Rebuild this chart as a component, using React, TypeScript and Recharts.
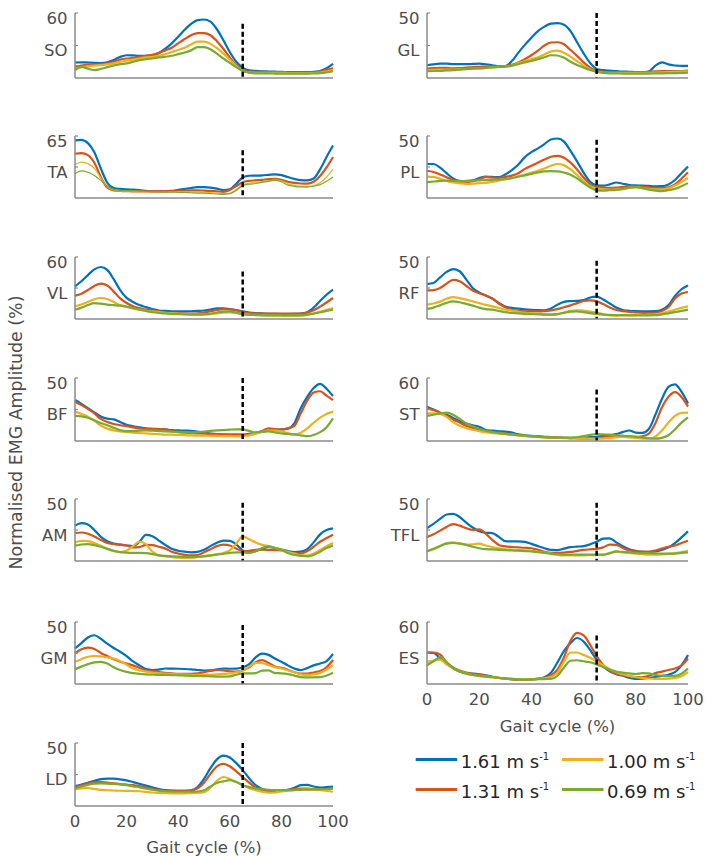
import React from 'react';
import { LineChart, Line, XAxis, YAxis, ReferenceLine } from 'recharts';

// Gait cycle (%) sample positions
const GAIT = [0,2.5,5,7.5,10,12.5,15,17.5,20,22.5,25,27.5,30,32.5,35,37.5,40,42.5,45,47.5,50,52.5,55,57.5,60,62.5,65,67.5,70,72.5,75,77.5,80,82.5,85,87.5,90,92.5,95,97.5,100];
const X_TICKS = [0,20,40,60,80,100];
const SPEED_LABELS = ['1.61', '1.31', '1.00', '0.69'];
const SPEED_COLORS = ['#0072BD', '#D95319', '#EDB120', '#77AC30'];
const FOOT_OFF = 65;

const SO_161 = [14.3,14.5,14.3,14,13.8,14.5,16.5,19.5,21,20.8,20.5,20.5,21,23,27,32,38,44.5,50,53.5,54,52,45,35,24,15,9.5,7,6.5,6.2,6,5.8,5.6,5.5,5.4,5.4,5.4,5.6,6.5,9,13];
const SO_131 = [10.5,11.5,12.3,12.5,12.8,13.5,15,17,18,18.5,19.5,20.5,21.5,23,25.5,28,32,36,39.5,41.5,41.5,39.5,34,27,19,12,7.5,6,5.7,5.6,5.5,5.5,5.4,5.3,5.2,5.2,5.2,5.4,6,7.5,9];
const SO_100 = [8.7,10,10.9,11.5,11.8,12.5,13.5,15,16,17,18,19,19.6,20.5,22,24,25.8,28,31,33.5,33.5,31.5,27.5,22.5,17,11,6.5,5.2,4.8,4.7,4.7,4.7,4.7,4.6,4.5,4.5,4.5,4.6,5,6,7.2];
const SO_069 = [7.2,10.3,8.7,7.2,8.5,10,11.5,12.8,13.5,15,16.5,17.5,18,19,19.6,20.5,22,23.5,25.5,28.5,28.5,26.5,22.5,18,14,10,6.5,5,4.3,4.2,4.2,4.1,4,4,4,4,4,4.2,4.5,5.2,6.2];

const GL_161 = [9.8,10.5,11,11,10.6,10.6,10.6,10.8,11,10.6,9.8,9,9.2,13,19.5,25.5,31,36,39.5,41.8,42.2,41,36,27.5,19,11.5,7,6,5.6,5.3,5,4.8,4.5,4.4,5,9.5,12,10.5,9.6,9.4,9.3];
const GL_131 = [7.3,7.6,7.8,7.8,7.5,7.6,8,8.4,8.6,8.8,9,9,9.2,10.2,12,14.5,17.5,21,25,27.3,27.5,26,21.5,17,12,8,5.6,4.8,4.5,4.4,4.4,4.4,4.4,4.5,4.8,5.2,5.4,5.4,5.4,5.4,5.6];
const GL_100 = [6,6.2,6.4,6.5,6.5,6.8,7,7.2,7.3,7.7,8.2,8.5,8.7,9.5,11.5,13,14.5,16,18,20.5,21,19.5,16.5,13,9.5,6.5,4.8,4.2,4,3.9,3.9,3.9,3.9,3.9,4,4.2,4.4,4.6,4.8,5,5.2];
const GL_069 = [5.2,5.4,5.4,5.8,6,6.4,6.8,7.2,7.4,7.8,8.2,8.5,8.7,9.5,10.7,12,13.2,14.5,16,17.5,17.3,15.5,12.5,10,8,6.2,4.8,4,3.6,3.5,3.4,3.4,3.4,3.4,3.4,3.5,3.6,3.7,3.8,3.9,4.2];

const TA_161 = [60.4,61,57.5,48,31,16,10.5,9.5,9,8.7,8.2,7.5,7,7,7,7.5,8.5,9.5,10.5,11.3,11.3,10.8,9.8,8.3,9,15,21.5,23.3,23.5,23.8,24.3,24.8,24,22,20,18.7,18.5,20.5,30,43,55];
const TA_131 = [46.4,47,45,37,22,11,8,7.5,7.2,7,7,7,7,7,7,7.2,7.5,7.8,8,8,7.8,7.5,7,6.5,8.5,12.5,16.5,18,18.5,19,19.8,20.2,19,17,15.8,15.2,15,17,23,32,43];
const TA_100 = [35,37.7,36,31,21,12,8.5,7.5,7.2,7,6.8,6.6,6.5,6.5,6.5,6.5,6.6,6.6,6.5,6.3,6,5.6,5.2,4.6,5,9,14,15.5,16.5,17.2,18,19,18,15,13.3,12.5,12.2,13,16,22,30];
const TA_069 = [25.5,28.5,27,23.5,18.5,12.5,9,8,7.8,7.5,7.3,7,6.8,6.6,6.4,6.2,6,5.8,5.5,5.2,5,4.6,4.2,3.8,4.5,8,13,14.5,15.2,16.3,17.5,18.5,17,13.5,12.2,11.6,11.5,12.3,14,17.5,22];

const PL_161 = [27.4,27.4,24.5,20,15.8,13.8,13.6,14.2,16,17.3,17,16.8,19,22.5,27,33,37,40,43.5,47.2,48,45.5,38,29.5,20.5,13,10.2,10,11,12.5,11.5,10.5,10.2,10,9.7,9.4,9.5,10.9,14.5,20,25.3];
const PL_131 = [22,21,19,16.8,14.5,13.2,12.8,13.5,15,16.8,16.5,16.2,17,18,20,23.5,26,28.5,31,33.3,34,32.5,28.5,23,16.5,11,8.8,8.4,8.2,8.4,8.9,9.3,9.3,9.2,8.7,8.1,8,8.6,11,15.5,20.7];
const PL_100 = [17.3,17,15.5,13.8,12.5,11.8,11.4,11.6,12,12.2,13,14,15,16,17.3,19,20.5,22,23.8,26,27.4,26.3,23,18.5,13.5,9.5,7.6,7,6.8,6.7,7.2,8.2,8.8,8,7.4,7,7,7.8,10,13,16.2];
const PL_069 = [12.8,13.3,13.8,14,13.8,13.6,13.8,14,14.2,14.4,14.6,14.9,15.3,16,17.2,18.3,19.5,20.6,21.4,21.6,21.5,20.5,18.8,15.8,12,8.5,6.2,6,6.3,6.6,7.4,8.3,8.8,8,6.8,6,5.6,6.3,7.4,9.5,12];

const VL_161 = [31.6,36.5,42.5,48,50.3,47.5,38.5,28,20.5,16.5,13.5,11.5,9.5,8.2,7.8,7.5,7.4,7.4,7.5,7.8,8.2,9.2,10.3,10.4,9.6,8.6,7.4,6.3,5.7,5.4,5.1,4.9,4.8,4.8,4.9,5.2,6.5,11,17.5,23.5,28.4];
const VL_131 = [22.6,24.5,28,32,34.2,32.5,26.5,20,15.5,12.3,10.5,9,8.1,7.3,6.5,6,5.6,5.3,5.2,5.5,6.3,7.5,8.7,9.6,9.4,8.4,6.8,5.8,5.5,5.3,5.2,5.2,5.2,5.2,5.2,5.3,6.3,8.4,12,16,20.3];
const VL_100 = [12.3,14,16.5,19,20.3,19.3,16.5,13.5,11.8,10.3,9,8,7.3,6.6,6,5.6,5.2,4.8,4.5,4.4,4.5,4.8,5.5,6.2,6.5,6,4.8,4.3,4,3.8,3.6,3.5,3.4,3.3,3.3,3.4,4,5.3,7,8.8,10.6];
const VL_069 = [9,11,13.5,15.3,14.8,13.9,13.4,12.9,12,10.5,9,7.7,6.5,5.8,5.4,5,4.7,4.4,4.2,4.2,4.5,5.2,6.3,7.2,7.3,6.2,4.6,4,3.8,3.6,3.5,3.5,3.5,3.5,3.5,3.6,4.2,5.2,6.5,7.8,9];

const RF_161 = [28.2,29,33.5,38,40.3,38.5,32,25,21.5,19,16.5,13,10,9,8.3,7.8,7.4,7.1,7,8.5,11.6,13.8,14.4,14.6,15.2,17.3,18,15.8,12.5,9.2,7.3,6.6,6.3,6.2,6.2,6.3,7.5,11,18.5,24,27.1];
const RF_131 = [23.1,23.3,25,28.5,31.5,30.5,26.8,23,20.8,19,16.5,12.5,9.5,7.5,6.5,6.2,6.1,6.1,6.3,7,8,9.5,11,12.8,14.5,15,14.2,12,9.3,7.3,6.4,5.8,5.4,5,4.8,4.9,6.5,9.5,16.5,20.5,21.8];
const RF_100 = [11.6,12.5,14,16.3,17.7,16.8,15.6,14.2,12.8,11.4,10.2,8.9,7.7,6.7,5.8,5,4.5,4.1,3.7,3.6,4,5.2,6.5,7,6.7,6,5.2,3.8,3,2.8,2.9,3,3.2,3.4,3.5,3.8,4.6,6,7.5,9,10.2];
const RF_069 = [8.1,9.2,11,13,14.2,13.5,12.2,10.8,9.2,8,7.5,6.5,5.5,4.9,4.5,4.2,4,3.8,3.6,3.6,4,5,5.9,6.2,5.6,4.7,4.1,3.6,3.3,3.2,3.1,3,3,3,3,3.1,3.7,4.6,5.5,6.5,7.5];

const BF_161 = [32.5,29.5,26,22.7,19.5,17.7,17.2,15,12.8,11.7,10.8,10,9.7,9.5,9.2,8.7,8.4,8.2,8.1,7.4,6.6,5.9,5.4,5,5,5,5,5.6,6.5,7.5,8.2,8.8,9.2,9.8,14,26,35,42,45.3,41.5,35.6];
const BF_131 = [31.2,28.5,25.5,22,17.5,15,13.5,12.5,11.8,10.8,10,9.6,9.4,9.4,9.2,7.8,7,6.6,6.3,6,5.8,5.6,5.4,5.2,5.1,5,5,5.2,6,8,10,9.5,9,10,12,22,32,38.5,39.5,36,32.5];
const BF_100 = [23.3,21.5,19.3,16,12.3,9.8,8.4,7.6,7.1,6.6,6.3,6,5.7,5.4,5.1,5,4.8,4.6,4.4,4.3,4.2,4.1,4,3.9,3.8,3.7,3.7,4.5,5.8,7.2,8.3,8.3,7.6,6.2,5.2,6.5,10,14.5,18.5,21.5,23.3];
const BF_069 = [19.9,19.6,18.5,16.5,14.3,12.5,10.5,8.6,7.8,7.8,8.2,8.4,8.2,7.9,7.6,7.4,7.2,7,6.8,7,7.5,8,8.4,8.7,9,9.3,9.2,8,6.8,7.4,7.6,6.8,6,5.6,5.2,4.5,3.8,4.8,7,11,18];

const ST_161 = [32.7,30,27,25,22,19,16.6,15,13.5,10.5,9.8,9.3,9,8,6.3,5.5,4.9,4.4,4,3.6,3.3,3,2.8,2.9,3.2,3.6,4,4.6,5.4,6.6,8.5,10,8,7.8,11.5,25,40,51.5,54,47,35.8];
const ST_131 = [31.1,29.5,27,24,20.5,17.5,14.5,12.5,11,9.5,8.6,8,7.4,6.5,5.5,4.8,4.3,4,3.7,3.5,3.3,3,2.8,2.5,2.3,2.2,2.6,3.5,4.5,5,4.8,4.4,4,4.5,7,17,32,42,46.5,42,32.7];
const ST_100 = [26.4,26.4,25.8,23,18,14.5,12.3,10.7,9.3,8.2,7.5,7,6.5,6,5.4,4.8,4.3,3.8,3.4,3.2,3,2.8,2.8,2.6,2.5,2.3,2.2,2.3,3,3.5,3.8,3.4,2.8,2.3,2.2,4,10,17.5,24,26.8,27];
const ST_069 = [23.9,25,26.2,27,25,21,17,14,11.5,9.8,8.6,7.5,6.8,6.2,5.6,5,4.5,4,3.6,3.2,3.1,3.1,3.3,3.6,4.6,5.8,6.6,6.3,6,5.5,5,4.5,4,3.3,2.6,2.2,3,5.5,11,17.5,22.6];

const AM_161 = [28.5,30.5,29.5,25,19.5,16,14,13.2,12.5,12,15.5,21,20,16.5,13,9.8,8.3,7.5,7,7.4,9,12,14.8,16.5,16.3,13.5,8.5,7.3,8,10,11.3,10.5,9.3,8,7.1,7.5,9.5,15,21.5,25,26.3];
const AM_131 = [22.6,23,22,19.8,17,14.5,13.7,13.2,12.5,11,11.2,13,12.8,11.5,10,7.5,6,5,4.5,4.8,7,9.5,12,13.2,12.5,10,7.8,8.2,9,9.1,9,8.8,8.6,7.5,6.3,6,8,11.5,15.5,18.5,21.2];
const AM_100 = [15,16.2,16,14.5,12.3,10,8,7.2,8.5,12,15.7,13.5,7.5,4.5,3.8,3.2,2.6,2.4,2.6,3.2,4,4.8,5.6,6.5,8.5,14,19.9,17.5,15,13,12,10.5,9,7.4,6,4.5,4.4,6,9,12,14.5];
const AM_069 = [12.4,13.3,13.6,12.8,11.5,9.8,8.3,7.2,6.7,6.5,6.5,6.3,5.6,4.6,4.1,3.8,3.5,3.3,3.2,3.4,3.8,4.4,5.1,5.8,6.5,7,6.8,6.5,8,10.5,11.8,10.5,9,6.5,4.8,4.2,3.8,4.8,7.5,10.5,12.4];

const TFL_161 = [26.6,30,34,37.5,38,35.5,31,27,24,22.8,22.5,19.5,16,15.8,15.9,15.4,13.8,12,10.3,8.9,8.8,10,11.2,11.6,12,13.5,15.5,18,18.3,15,12,9.5,8.2,7.3,7,7.8,9,11,14.5,19,23.9];
const TFL_131 = [19.4,21.5,24.5,27.5,29.8,28.5,26.5,25,25.5,22,17,13,11.8,11.3,11,10.7,10.3,9,7.5,6.6,6.5,6.8,7.3,8.2,9,9.4,9.8,11,13.2,13,10.5,8.5,7.7,7.5,7.6,8.5,10,11.4,12.5,14.5,16.4];
const TFL_100 = [7.8,9.5,12,14.5,15,14.2,13.3,13.5,14,12.5,11.3,10.3,9.5,9.1,8.8,8.6,8.2,7.5,6.8,6,5,4.6,4.6,4.6,4.6,4.7,4.8,5,6.5,7.5,7,6.5,6,5.5,5.1,5.2,5.4,5.7,6.2,7.2,8.3];
const TFL_069 = [7.8,9.8,12,14,14.5,14,13,11.5,10.3,9.5,9.3,9,8.7,8.5,8.3,8,7.8,7.2,6.5,5.8,5.5,5.2,5.1,5.1,5.1,5.1,5.1,5.1,6.2,7.7,7.3,6.9,6.6,6.4,6.3,6.1,6,5.9,6,6.5,7];

const GM_161 = [28.8,33,37.5,39.3,36.5,32.5,29,26,22.5,18.2,15,12,11.3,11.6,12.5,12.4,12.3,12.1,11.8,11.3,10.9,11,11.8,12.5,12.3,12.4,13.5,16,21.5,24.5,23.5,20.5,18,15,12.5,11.2,12.8,15,16.5,18.5,24.2];
const GM_131 = [24.7,28,29.3,28.3,25,22.5,20,18,16.5,15,13,11,10.5,9.7,9,8.5,8.1,8.1,8.1,8.5,9.5,10.5,11.3,11,10.3,10,11,13.5,17.5,19.3,17,14,13,11.5,9.5,8.3,8.3,9.3,10.5,13.5,19.4];
const GM_100 = [18,20,22,22.6,22.3,21.5,20.5,18.5,15.5,12.6,11,10,9.3,8.8,8.3,8,7.8,7.6,7.4,7.3,7.3,7.4,7.7,8.1,8.5,9.5,11,14,17,16.8,15.3,13.5,12.5,11,9.5,7.8,7.3,7.8,9,11.5,15.3];
const GM_069 = [11.8,14,16,17.5,17.8,16.5,13.5,11.3,9.8,8.8,8.2,7.8,7.5,7.3,7.3,7.2,7,6.8,6.6,6.5,6.4,6.2,6,5.9,6.2,7.5,8.6,8.6,8.8,10.8,11,8.8,8.6,8,6.8,5.6,5.4,5.4,5.5,6.8,9.1];

const LD_161 = [15.8,17,18.5,20,21.3,21.8,21.7,21.2,20.3,19,17.7,16.2,14.8,13.5,12.6,12.2,12.1,12.1,12.5,15,21.5,30,37,40,38.5,34,28.5,22,16.5,13.5,12.5,12.1,12.2,12.8,14.5,16.5,16.8,15.5,14.7,15,15.3];
const LD_131 = [15.3,16.5,17.8,18.9,19.2,18.5,17.9,17.4,17,16.6,15.8,14.7,13.6,12.6,12.1,12,12,12,12.1,14,18.5,25.5,31.5,33.5,31.5,27.5,23,18.5,14.5,12.6,12.1,12,12.2,12.8,13.5,13.9,13.8,13.4,13.2,13.5,13.9];
const LD_100 = [13.2,14,14.3,13.5,12.8,12.5,12.3,12.1,12,11.9,11.7,11.2,10.7,10.4,10.1,10,10,10,10.2,10.4,11,14.5,20,23,21.5,19,16.6,14.2,12.6,11.3,10.5,10.7,11.5,12.1,12.6,13.1,13.2,12.9,12.6,12,11.3];
const LD_069 = [13.9,15.5,16.8,17.7,17.9,17.8,17.5,17.1,16.5,15.6,14.8,13.8,13,12.2,11.6,11.3,11.3,11.3,11.3,11.5,12.5,15.5,18.3,19.5,20.5,19,16.5,15,13.9,13.3,12.9,12.7,12.6,12.6,12.7,12.8,13,13.1,13.2,13.5,13.9];

const ES_161 = [30.3,30,25,19.5,15.5,12,10.4,10,9.4,8.5,7,5.8,5.2,4.7,4.4,4.3,4.4,4.9,6.5,11,21,32,39.6,44.5,41,33,23.5,17,12.2,9.5,8,6,4.9,5.2,6,6.8,7.8,9,11.5,18,28];
const ES_131 = [30.3,30.5,28.5,21,16,13,11,9.8,9,8,7,6,5.2,4.5,4.1,4,4.5,5.2,6,8.5,14,26,42,49.5,47,38,27,18.5,13,10,8.5,7.5,6.8,6.6,8,10.5,12,13.6,15,18,24.7];
const ES_100 = [21.4,22.6,23.5,19,15,12.3,10.3,8.7,7.8,7.2,6.5,5.8,5.3,4.9,4.6,4.4,4.5,4.9,5.6,7,11,22,30.5,30.5,28,25.5,22,18,14.5,11.5,9.5,7.8,6.5,5.8,5.3,5,4.9,5.2,5.8,7.5,11.5];
const ES_069 = [18.1,22,26,21,15.5,12,10,8.7,7.8,7.2,6.6,6,5.4,4.9,4.5,4.3,4.4,4.6,4.8,5,8,16,22.5,23,22,21,19,16.5,13.8,12,11,10.2,9.6,10.5,10.2,8.7,8,7.5,7.8,10,14.8];

// muscle name, y-axis maximum, top of the dashed foot-off line
const PANELS = [
  { name: 'SO', max: 60, dashTop: 50, col: 0, row: 0, s: [SO_161, SO_131, SO_100, SO_069] },
  { name: 'GL', max: 50, dashTop: 50, col: 1, row: 0, s: [GL_161, GL_131, GL_100, GL_069] },
  { name: 'TA', max: 65, dashTop: 50, col: 0, row: 1, s: [TA_161, TA_131, TA_100, TA_069], thin: true },
  { name: 'PL', max: 50, dashTop: 47, col: 1, row: 1, s: [PL_161, PL_131, PL_100, PL_069] },
  { name: 'VL', max: 60, dashTop: 46, col: 0, row: 2, s: [VL_161, VL_131, VL_100, VL_069] },
  { name: 'RF', max: 50, dashTop: 47, col: 1, row: 2, s: [RF_161, RF_131, RF_100, RF_069] },
  { name: 'BF', max: 50, dashTop: 50, col: 0, row: 3, s: [BF_161, BF_131, BF_100, BF_069] },
  { name: 'ST', max: 60, dashTop: 49, col: 1, row: 3, s: [ST_161, ST_131, ST_100, ST_069] },
  { name: 'AM', max: 50, dashTop: 47, col: 0, row: 4, s: [AM_161, AM_131, AM_100, AM_069] },
  { name: 'TFL', max: 50, dashTop: 47, col: 1, row: 4, s: [TFL_161, TFL_131, TFL_100, TFL_069] },
  { name: 'GM', max: 50, dashTop: 47.5, col: 0, row: 5, s: [GM_161, GM_131, GM_100, GM_069] },
  { name: 'ES', max: 60, dashTop: 47, col: 1, row: 5, s: [ES_161, ES_131, ES_100, ES_069], showX: true },
  { name: 'LD', max: 50, dashTop: 50, col: 0, row: 6, s: [LD_161, LD_131, LD_100, LD_069], showX: true },
];

// layout
const COL_X0 = [75, 427];
const COL_X1 = [333, 688];
const ROW_TOP = [13, 136, 257, 378, 499, 622, 743];
const ROW_BOTTOM = [78, 198, 319, 441, 561, 684, 806];
const FONT = '"DejaVu Sans", sans-serif';
const TEXT = '#4d4d4d';
const AXIS = '#8a8a8a';

function Panel({ p }: { p: any }) {
  const x0 = COL_X0[p.col];
  const x1 = COL_X1[p.col];
  const y0 = ROW_TOP[p.row];
  const y1 = ROW_BOTTOM[p.row];
  const mt = 10;
  const mr = 18;
  const yw = 75;
  const xh = p.showX ? 40 : 2;
  const width = x1 - x0 + yw + mr;
  const height = y1 - y0 + mt + xh;
  const data = GAIT.map((g, i) => ({ g, s0: p.s[0][i], s1: p.s[1][i], s2: p.s[2][i], s3: p.s[3][i] }));
  const yTick = (tp: any) => {
    const v = tp.payload.value;
    const label = v === p.max ? String(p.max) : p.name;
    return (
      <g>
        <line x1={tp.x} x2={tp.x + 3} y1={tp.y} y2={tp.y} stroke={AXIS} strokeWidth={1.2} />
        <text x={tp.x - 7.5} y={tp.y + 10.5} textAnchor="end" fontFamily={FONT} fontSize={16.5} fill={TEXT}>{label}</text>
      </g>
    );
  };
  const xTick = (tp: any) => (
    <text x={tp.x} y={tp.y + 21} textAnchor="middle" fontFamily={FONT} fontSize={16.5} fill={TEXT}>{tp.payload.value}</text>
  );
  return (
    <div style={{ position: 'absolute', left: x0 - yw, top: y0 - mt }}>
      <LineChart width={width} height={height} data={data} margin={{ top: mt, right: mr, bottom: 0, left: 0 }}>
        <XAxis dataKey="g" type="number" domain={[0, 100]} ticks={X_TICKS} interval={0} height={xh}
          axisLine={{ stroke: AXIS, strokeWidth: 1.5 }} tickLine={false} tickSize={0} tickMargin={0}
          tick={p.showX ? xTick : false} />
        <YAxis type="number" domain={[0, p.max]} ticks={[p.max / 2, p.max]} interval={0} width={yw}
          axisLine={{ stroke: AXIS, strokeWidth: 1.5 }} tickLine={false} tickSize={0} tickMargin={0}
          tick={yTick} />
        {SPEED_COLORS.map((c, k) => (
          <Line key={k} dataKey={'s' + k} type="monotone" stroke={c}
            strokeWidth={p.thin && k >= 2 ? 1.2 : 2.2} dot={false} activeDot={false} isAnimationActive={false} />
        ))}
        <ReferenceLine segment={[{ x: FOOT_OFF, y: p.dashTop }, { x: FOOT_OFF, y: 0 }]}
          stroke="#000" strokeWidth={2.5} strokeDasharray="5 3" />
      </LineChart>
    </div>
  );
}

function Overlay() {
  const legendPos = [
    { x: 415.7, y: 759.5 },
    { x: 415.7, y: 789.5 },
    { x: 562, y: 759.5 },
    { x: 562, y: 789.5 },
  ];
  return (
    <svg width={708} height={857} style={{ position: 'absolute', left: 0, top: 0, pointerEvents: 'none' }}>
      <text transform="translate(21.5,432.5) rotate(-90)" textAnchor="middle" fontFamily={FONT} fontSize={17.4} fill={TEXT}>
        Normalised EMG Amplitude (%)
      </text>
      <text x={204} y={853} textAnchor="middle" fontFamily={FONT} fontSize={16.5} fill={TEXT}>Gait cycle (%)</text>
      <text x={557.5} y={731.5} textAnchor="middle" fontFamily={FONT} fontSize={16.5} fill={TEXT}>Gait cycle (%)</text>
      {SPEED_LABELS.map((s, k) => {
        const pos = legendPos[k];
        return (
          <g key={k}>
            <line x1={pos.x} x2={pos.x + 41.5} y1={pos.y} y2={pos.y} stroke={SPEED_COLORS[k]} strokeWidth={3} />
            <text x={pos.x + 45} y={pos.y + 8.5} fontFamily={FONT} fontSize={18} fill="#262626">
              {s + ' m s'}
              <tspan dy={-8} fontSize={10}>-1</tspan>
            </text>
          </g>
        );
      })}
    </svg>
  );
}

export default function App() {
  return (
    <div style={{ position: 'absolute', left: 0, top: 0, width: 708, height: 857, background: '#fff' }}>
      {PANELS.map((p) => <Panel key={p.name} p={p} />)}
      <Overlay />
    </div>
  );
}
